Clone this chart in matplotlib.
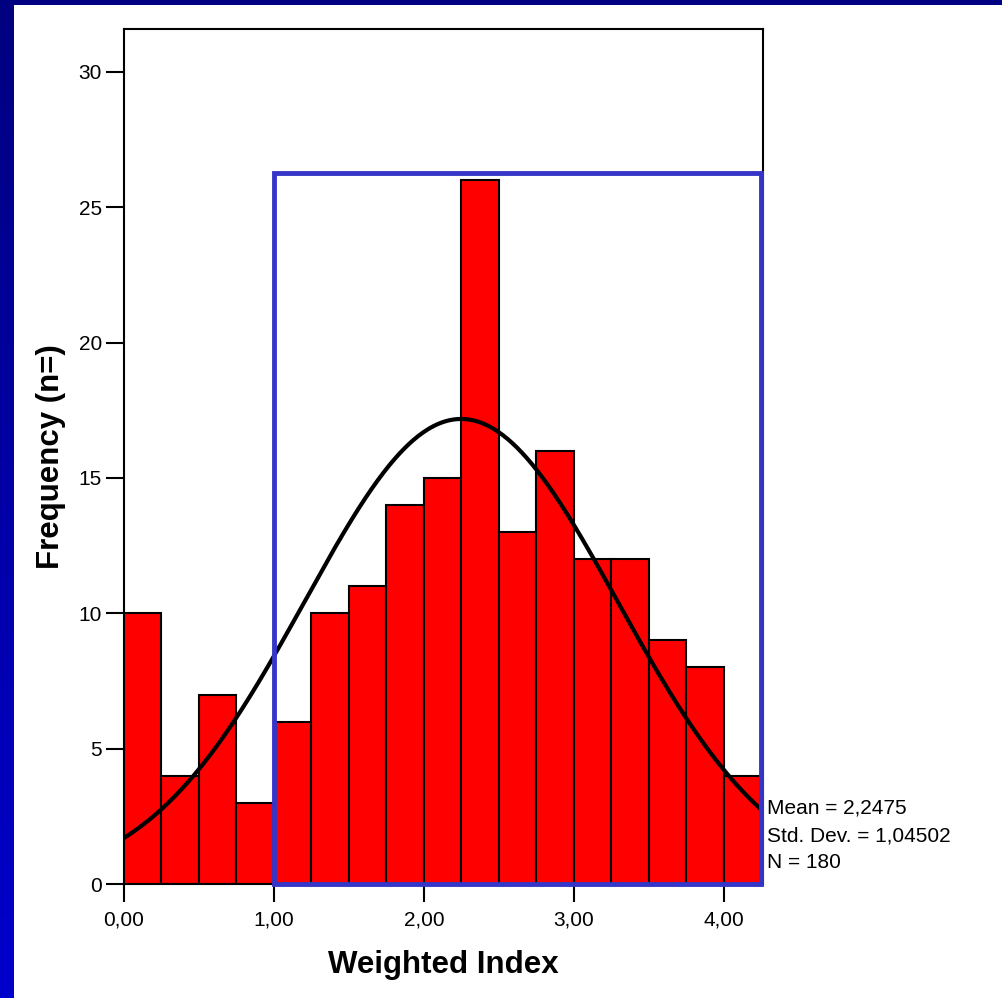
import numpy as np
import matplotlib.pyplot as plt
from matplotlib.patches import Rectangle
from matplotlib.colors import LinearSegmentedColormap

plt.rcParams['font.family'] = ['Liberation Sans', 'DejaVu Sans']

# Histogram of the weighted index (bin width 0,25)
bin_edges = np.arange(0, 4.26, 0.25)
counts = [10, 4, 7, 3, 6, 10, 11, 14, 15, 26, 13, 16, 12, 12, 9, 8, 4]
mean_val = 2.2475
std_val = 1.04502
n_total = 180
x_ticks = [0, 1, 2, 3, 4]
x_tick_labels = ['0,00', '1,00', '2,00', '3,00', '4,00']
y_ticks = [0, 5, 10, 15, 20, 25, 30]
highlight_x = (1.0, 4.25)
highlight_top = 26.25

W, H = 1003, 998
fig = plt.figure(figsize=(W / 100, H / 100), dpi=100)
fig.patch.set_facecolor('white')

# slide frame: navy bar on top, gradient strip on the left
bg = fig.add_axes([0, 0, 1, 1], zorder=-10)
bg.set_xlim(0, W)
bg.set_ylim(H, 0)
bg.axis('off')
grad = np.linspace(0, 1, 256).reshape(-1, 1)
cmap = LinearSegmentedColormap.from_list('frame', ['#000080', '#0000cc'])
bg.imshow(grad, cmap=cmap, extent=[0, 14, H, 0], aspect='auto')
bg.add_patch(Rectangle((0, 0), W, 5, color='#000080', lw=0))

ax = fig.add_axes([124 / W, (H - 884) / H, (763 - 124) / W, (884 - 29) / H])
ax.bar(bin_edges[:-1], counts, width=0.25, align='edge', color='#ff0000',
       edgecolor='black', linewidth=1.5, zorder=2)

xs = np.linspace(0, 4.25, 400)
pdf = n_total * 0.25 / (std_val * np.sqrt(2 * np.pi)) * np.exp(-0.5 * ((xs - mean_val) / std_val) ** 2)
ax.plot(xs, pdf, color='black', lw=3, zorder=3)

ax.add_patch(Rectangle((highlight_x[0], 0), highlight_x[1] - highlight_x[0], highlight_top,
                       fill=False, edgecolor='#3535c8', lw=3.5, zorder=4, clip_on=False))

ax.set_xlim(0, 639 / 150)
ax.set_ylim(0, 855 / 27.07)
ax.set_xticks(x_ticks)
ax.set_xticklabels(x_tick_labels)
ax.set_yticks(y_ticks)
ax.tick_params(axis='both', direction='out', length=13, width=1.5, labelsize=15)
ax.tick_params(axis='x', pad=6)
ax.tick_params(axis='y', pad=3)
for s in ax.spines.values():
    s.set_linewidth(1.5)

ax.set_xlabel('Weighted Index', fontsize=22.5, fontweight='bold', labelpad=15)
ax.set_ylabel('Frequency (n=)', fontsize=22.5, fontweight='bold', labelpad=9)

stats = ['Mean = ' + f'{mean_val:.4f}'.replace('.', ','),
         'Std. Dev. = ' + f'{std_val:.5f}'.replace('.', ','),
         f'N = {n_total}']
for i, line in enumerate(stats):
    fig.text(767 / W, 1 - (808 + 27.5 * i) / H, line, fontsize=15, va='center', ha='left')

fig.savefig('out.png', dpi=100)
